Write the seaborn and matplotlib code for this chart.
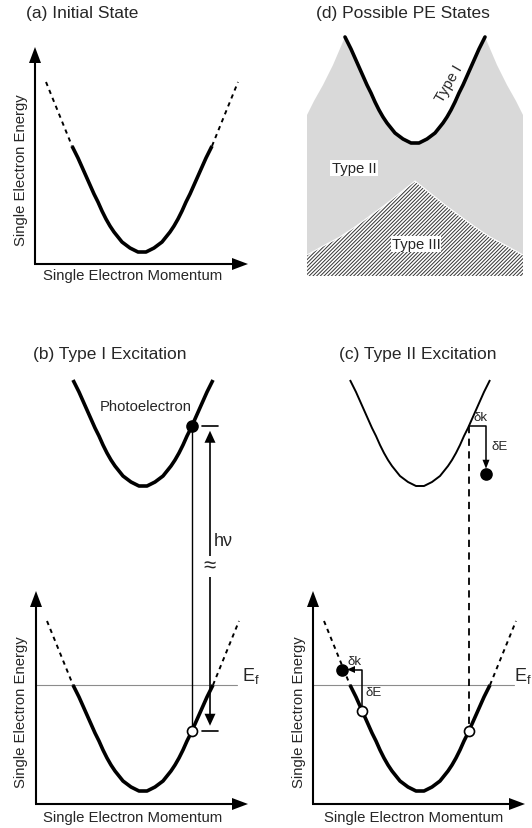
import numpy as np
import matplotlib
matplotlib.use("Agg")
import matplotlib.pyplot as plt
import seaborn as sns

# ---- band dispersion: momentum offset from the band minimum and energy above it
band_k = [0, 4, 8, 12, 16, 20, 24, 28, 32, 36, 40, 44, 48, 52, 56, 60, 64,
          70, 83, 96]
band_E = [0, 0, 2, 4, 7, 10, 15, 20, 26, 33, 41, 50, 58, 67, 76, 85, 94,
          106, 138, 170]
k_fermi = 70          # occupied part of the band ends at the Fermi level
k_final_max = 70      # extent of the drawn final-state band

# ---- panel (d): edge of the Type III region, depth below its peak
type3_k = [0, 15, 30, 45, 60, 75, 90, 108]
type3_depth = [0, 12, 24, 35, 46, 56, 64, 74]
# upper-left edge of the Type II region (k offset, height above band minimum)
type2_edge_k = [-108, -108, -101, -92, -82, -70]
type2_edge_E = [-133, 28, 42, 58, 78, 106]

# ---- excitations
k_photo = 49                 # Type I: vertical transition
dk_1, dE_1 = 17, -48         # Type II: scattering of the excited electron
k_hole_2 = -58               # Type II: second hole
dk_2, dE_2 = -20, 41

sns.set_theme(style="white")
plt.rcParams["font.family"] = ["Liberation Sans", "DejaVu Sans"]
plt.rcParams["hatch.linewidth"] = 0.7

W, H = 532, 829
fig = plt.figure(figsize=(W / 100, H / 100), dpi=100)
ax = fig.add_axes([0, 0, 1, 1])
ax.set_xlim(0, W)
ax.set_ylim(H, 0)
ax.axis("off")

K = np.array(band_k, float)
E = np.array(band_E, float)
kk = np.concatenate([-K[::-1], K[1:]])
EE = np.concatenate([E[::-1], E[1:]])


def band_energy(k):
    return np.interp(abs(k), K, E)


def line(xs, ys, **kw):
    sns.lineplot(x=xs, y=ys, ax=ax, sort=False, estimator=None,
                 legend=False, color="black", **kw)


def draw_band(vx, vy, k_solid, k_dash=None, lw=2.6):
    m = np.abs(kk) <= k_solid + 1e-9
    line(vx + kk[m], vy - EE[m], lw=lw, solid_capstyle="butt",
         solid_joinstyle="round")
    if k_dash:
        for s in (-1, 1):
            md = (s * kk >= k_solid - 1e-9) & (np.abs(kk) <= k_dash)
            line(vx + kk[md], vy - EE[md], lw=1.4,
                 linestyle=(0, (2.2, 2.2)))


def head(tip, direction, length, width):
    tx, ty = tip
    dx, dy = direction
    n = np.hypot(dx, dy)
    dx, dy = dx / n, dy / n
    px, py = -dy, dx
    bx, by = tx - dx * length, ty - dy * length
    ax.fill([tx, bx + px * width / 2, bx - px * width / 2],
            [ty, by + py * width / 2, by - py * width / 2],
            color="black", lw=0, zorder=5)


def axis_arrows(ox, oy, ytip, xtip):
    ax.plot([ox, ox], [oy, ytip + 12], color="black", lw=1.5,
            solid_capstyle="butt")
    ax.plot([ox - 0.7, xtip - 12], [oy, oy], color="black", lw=1.5,
            solid_capstyle="butt")
    head((ox, ytip), (0, -1), 16, 12)
    head((xtip, oy), (1, 0), 16, 12)


title_fs = 12.5
label_fs = 10.7


def axis_labels(cx_mom, y_mom, x_en, cy_en):
    ax.text(cx_mom, y_mom, "Single Electron Momentum", ha="center",
            va="center", fontsize=label_fs)
    ax.text(x_en, cy_en, "Single Electron Energy", ha="center",
            va="center", rotation=90, fontsize=label_fs)


def dot(x, y, filled=True, size=62):
    ax.scatter([x], [y], s=size, facecolor="black" if filled else "white",
               edgecolor="black", linewidths=1.2, zorder=6)


# ================= (a) Initial State =================
ax.text(26, 13, "(a) Initial State", ha="left", va="center", fontsize=title_fs)
axis_arrows(35, 265, 48, 248)
draw_band(142, 253, k_fermi, 96)
axis_labels(133, 276, 21, 170)

# ================= (d) Possible PE States =================
ax.text(403, 13, "(d) Possible PE States", ha="center", va="center",
        fontsize=title_fs)
dvx, dvy = 415, 144
mu = np.abs(kk) <= k_final_max
up_x = dvx + kk[mu]
up_y = dvy - EE[mu]
ek = np.array(type2_edge_k, float)
eE = np.array(type2_edge_E, float)
poly_x = np.concatenate([dvx + ek, up_x, dvx - ek[::-1]])
poly_y = np.concatenate([dvy - eE, up_y, dvy - eE[::-1]])
ax.fill(poly_x, poly_y, color="#d9d9d9", lw=0, zorder=1)

tk = np.array(type3_k, float)
td = np.array(type3_depth, float)
hx = np.concatenate([-tk[::-1], tk[1:]])
hd = np.concatenate([td[::-1], td[1:]])
peak_y = 182
ax.fill_between(dvx + hx, peak_y + hd, 277, facecolor="white",
                edgecolor="#333333", hatch="/////////", lw=0, zorder=2)
ax.plot(dvx + hx, peak_y + hd, color="white", lw=0.8, zorder=3)
line(up_x, up_y, lw=2.6, zorder=4, solid_joinstyle="round")

ax.text(449, 84, "Type I", rotation=60, ha="center", va="center",
        fontsize=label_fs, zorder=6)
ax.text(354, 169, "Type II", ha="center", va="center", fontsize=label_fs,
        bbox=dict(facecolor="white", edgecolor="none", pad=1.0), zorder=6)
ax.text(416, 245, "Type III", ha="center", va="center", fontsize=label_fs,
        bbox=dict(facecolor="white", edgecolor="none", pad=0.8), zorder=6)

# ================= (b) Type I Excitation =================
ax.text(33, 354, "(b) Type I Excitation", ha="left", va="center",
        fontsize=title_fs)
bvx, lower_vy, upper_vy = 143, 792, 487
ef_y = lower_vy - band_energy(k_fermi)
axis_arrows(36, 805, 592, 248)
ax.plot([36, 237], [ef_y, ef_y], color="#8c8c8c", lw=0.8, zorder=1)
ax.text(242, ef_y - 10, r"$\mathregular{E_f}$", ha="left", va="center",
        fontsize=13)
draw_band(bvx, lower_vy, k_fermi, 96)
draw_band(bvx, upper_vy, k_final_max, None)

pe_x = bvx + k_photo
pe_y = upper_vy - band_energy(k_photo)
hole_y = lower_vy - band_energy(k_photo)
ax.plot([pe_x, pe_x], [pe_y, hole_y], color="black", lw=1.0, zorder=3)
dot(pe_x, pe_y, True)
dot(pe_x, hole_y, False, size=52)
ax.text(146, 407, "Photoelectron", ha="center", va="center",
        fontsize=label_fs)

# photon energy dimension arrow
hx0 = 210
ax.plot([hx0 - 8, hx0 + 8], [pe_y, pe_y], color="black", lw=1.2)
ax.plot([hx0 - 8, hx0 + 8], [hole_y, hole_y], color="black", lw=1.2)
ax.plot([hx0, hx0], [pe_y + 16, hole_y - 16], color="black", lw=1.2)
head((hx0, pe_y + 5), (0, -1), 12, 11)
head((hx0, hole_y - 5), (0, 1), 12, 11)
ax.text(hx0, 567, "≈", ha="center", va="center", fontsize=16,
        bbox=dict(facecolor="white", edgecolor="none", pad=0.0), zorder=6)
ax.text(214, 541, "hν", ha="left", va="center", fontsize=13)
axis_labels(133, 818, 21, 712)

# ================= (c) Type II Excitation =================
ax.text(339, 354, "(c) Type II Excitation", ha="left", va="center",
        fontsize=title_fs)
cvx = 420
axis_arrows(313, 805, 592, 525)
ax.plot([313, 514], [ef_y, ef_y], color="#8c8c8c", lw=0.8, zorder=1)
ax.text(514, ef_y - 10, r"$\mathregular{E_f}$", ha="left", va="center",
        fontsize=13)
draw_band(cvx, lower_vy, k_fermi, 96)
draw_band(cvx, upper_vy, k_final_max, None, lw=1.4)

# vertical transition followed by a scattering event
c_top_x = cvx + k_photo
c_top_y = upper_vy - band_energy(k_photo)
c_hole_y = lower_vy - band_energy(k_photo)
ax.plot([c_top_x, c_top_x], [c_top_y, c_hole_y], color="black", lw=1.3,
        linestyle=(0, (4, 3)), zorder=3)
dot(c_top_x, c_hole_y, False, size=52)
e1x, e1y = c_top_x + dk_1, c_top_y - dE_1
ax.plot([c_top_x, e1x, e1x], [c_top_y, c_top_y, e1y - 13], color="black",
        lw=1.1)
head((e1x, e1y - 5), (0, 1), 9, 7)
dot(e1x, e1y, True)
ax.text(e1x - 5, c_top_y - 9, "δk", ha="center", va="center", fontsize=9.5)
ax.text(e1x + 5, 447, "δE", ha="left", va="center", fontsize=9.5)

# second hole: electron scattered up across the Fermi level
h2x = cvx + k_hole_2
h2y = lower_vy - band_energy(k_hole_2)
e2x, e2y = h2x + dk_2, h2y - dE_2
ax.plot([h2x, h2x, e2x + 12], [h2y, e2y, e2y], color="black", lw=1.1,
        zorder=3)
head((e2x + 5, e2y), (-1, 0), 8, 7)
dot(e2x, e2y, True)
dot(h2x, h2y, False, size=52)
ax.text(355, 662, "δk", ha="center", va="center", fontsize=9.5)
ax.text(365, 693, "δE", ha="left", va="center", fontsize=9.5)
axis_labels(414, 818, 299, 712)

fig.savefig("out.png", dpi=100, facecolor="white")
